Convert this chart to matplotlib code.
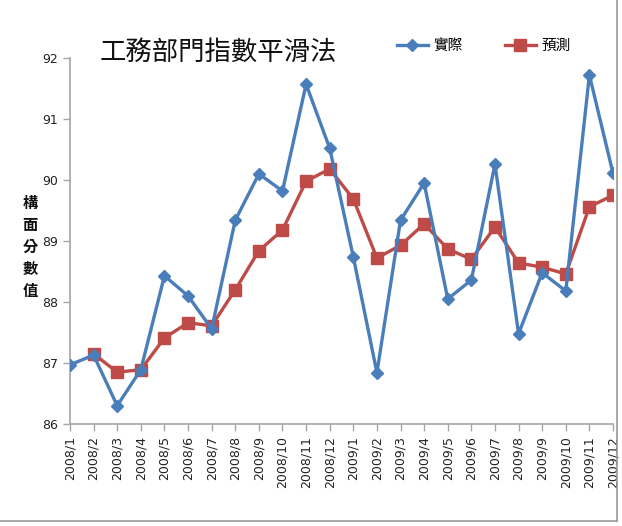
import matplotlib
matplotlib.use("Agg")
import matplotlib.pyplot as plt
from matplotlib.lines import Line2D

plt.rcParams['font.family'] = ['DejaVu Sans', 'Noto Sans CJK TC']

months = ["2008/1", "2008/2", "2008/3", "2008/4", "2008/5", "2008/6", "2008/7", "2008/8",
          "2008/9", "2008/10", "2008/11", "2008/12", "2009/1", "2009/2", "2009/3", "2009/4",
          "2009/5", "2009/6", "2009/7", "2009/8", "2009/9", "2009/10", "2009/11", "2009/12"]
actual = [86.97, 87.13, 86.30, 86.89, 88.43, 88.10, 87.56, 89.34,
          90.10, 89.82, 91.57, 90.52, 88.74, 86.84, 89.34, 89.95,
          88.05, 88.36, 90.26, 87.48, 88.48, 88.18, 91.72, 90.11]
# forecast starts at 2008/2
forecast = [None, 87.15, 86.85, 86.89, 87.41, 87.66, 87.61, 88.20,
            88.84, 89.18, 89.98, 90.18, 89.69, 88.72, 88.93, 89.28,
            88.87, 88.70, 89.23, 88.64, 88.57, 88.46, 89.56, 89.75]
yticks = [86, 87, 88, 89, 90, 91, 92]

blue = '#4A7EBB'
red = '#BE4B48'
axis_gray = '#A6A6A6'
cjk = ['Noto Sans CJK TC', 'DejaVu Sans']

fig = plt.figure(figsize=(6.22, 5.26), dpi=100)
ax = fig.add_axes([70 / 622, 102 / 526, 543 / 622, 366 / 526])

x = list(range(len(months)))
ax.plot(x, actual, color=blue, lw=2.4, marker='D', ms=6.5, zorder=3)
fx = [i for i, v in enumerate(forecast) if v is not None]
fy = [v for v in forecast if v is not None]
ax.plot(fx, fy, color=red, lw=2.4, marker='s', ms=8, zorder=2)

ax.set_xlim(0, len(months) - 1)
ax.set_ylim(86, 92)
ax.set_xticks(x)
ax.set_xticklabels(months, rotation=90, fontsize=9, color='#222222')
ax.set_yticks(yticks)
ax.set_yticklabels([str(t) for t in yticks], fontsize=9, color='#222222')
for s in ['top', 'right']:
    ax.spines[s].set_visible(False)
for s in ['left', 'bottom']:
    ax.spines[s].set_color(axis_gray)
    ax.spines[s].set_linewidth(1.2)
ax.tick_params(axis='both', color=axis_gray, length=5, width=1)

# title and y label
fig.text(218 / 622, 1 - 52 / 526, '工務部門指數平滑法', fontsize=19, ha='center', va='center',
         family=cjk, color='#111111')
fig.text(30 / 622, 1 - 247 / 526, '構\n面\n分\n數\n值', fontsize=11, ha='center', va='center',
         linespacing=1.45, family=cjk, color='#111111', weight='bold')

# legend
handles = [Line2D([], [], color=blue, lw=2.4, marker='D', ms=6.5),
           Line2D([], [], color=red, lw=2.4, marker='s', ms=8)]
fig.legend(handles, ['實際', '預測'], loc='center', bbox_to_anchor=(484 / 622, 1 - 46 / 526),
           ncol=2, frameon=False, handlelength=2.1, handletextpad=0.4, columnspacing=2.9,
           prop={'family': cjk, 'size': 10.5})

# outer frame (right and bottom edges visible)
fig.add_artist(Line2D([617 / 622, 617 / 622], [1, 1 - 521 / 526], transform=fig.transFigure,
                      color='#9A9A9A', lw=1.2))
fig.add_artist(Line2D([0, 617 / 622], [1 - 521 / 526, 1 - 521 / 526], transform=fig.transFigure,
                      color='#9A9A9A', lw=1.2))

fig.savefig('out.png', dpi=100)
